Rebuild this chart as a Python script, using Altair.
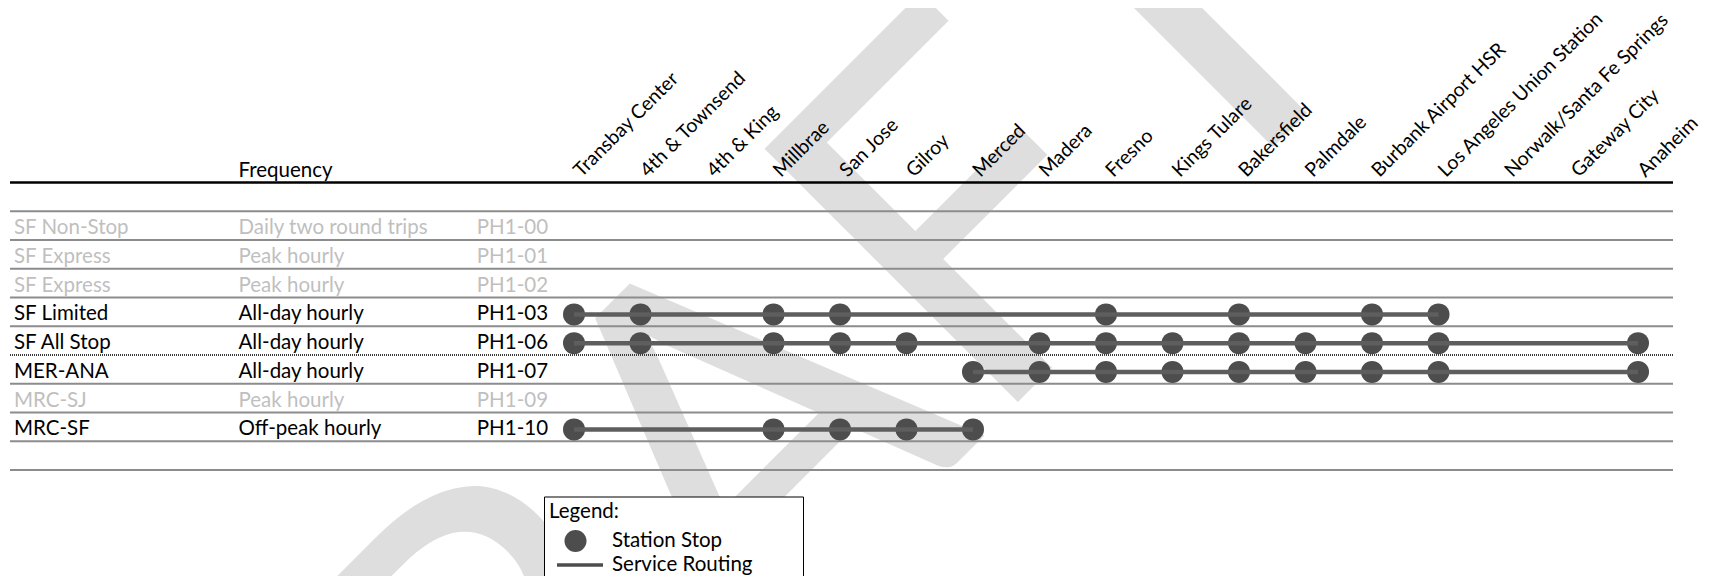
import altair as alt
import pandas as pd

# ---------------- data ----------------
stations = [
    "Transbay Center", "4th & Townsend", "4th & King", "Millbrae", "San Jose",
    "Gilroy", "Merced", "Madera", "Fresno", "Kings Tulare", "Bakersfield",
    "Palmdale", "Burbank Airport HSR", "Los Angeles Union Station",
    "Norwalk/Santa Fe Springs", "Gateway City", "Anaheim",
]

service_names = ["SF Non-Stop", "SF Express", "SF Express", "SF Limited",
                 "SF All Stop", "MER-ANA", "MRC-SJ", "MRC-SF"]
frequencies = ["Daily two round trips", "Peak hourly", "Peak hourly",
               "All-day hourly", "All-day hourly", "All-day hourly",
               "Peak hourly", "Off-peak hourly"]
codes = ["PH1-00", "PH1-01", "PH1-02", "PH1-03", "PH1-06", "PH1-07",
         "PH1-09", "PH1-10"]
status = ["inactive", "inactive", "inactive", "active", "active", "active",
          "inactive", "active"]

stops_ph1_03 = ["Transbay Center", "4th & Townsend", "Millbrae", "San Jose",
                "Fresno", "Bakersfield", "Burbank Airport HSR",
                "Los Angeles Union Station"]
stops_ph1_06 = ["Transbay Center", "4th & Townsend", "Millbrae", "San Jose",
                "Gilroy", "Madera", "Fresno", "Kings Tulare", "Bakersfield",
                "Palmdale", "Burbank Airport HSR", "Los Angeles Union Station",
                "Anaheim"]
stops_ph1_07 = ["Merced", "Madera", "Fresno", "Kings Tulare", "Bakersfield",
                "Palmdale", "Burbank Airport HSR", "Los Angeles Union Station",
                "Anaheim"]
stops_ph1_10 = ["Transbay Center", "Millbrae", "San Jose", "Gilroy", "Merced"]

service_stops = {"PH1-03": stops_ph1_03, "PH1-06": stops_ph1_06,
                 "PH1-07": stops_ph1_07, "PH1-10": stops_ph1_10}

legend_items = ["Station Stop", "Service Routing"]
watermark_text = ["DRAFT"]

# ---------------- tables ----------------
rows = pd.DataFrame({
    "row": list(range(len(codes))),
    "name": service_names,
    "freq": frequencies,
    "code": codes,
    "status": status,
})

stop_records = []
for code, sts in service_stops.items():
    r = codes.index(code)
    for s in sts:
        stop_records.append({"code": code, "row": r, "station": s,
                             "idx": stations.index(s), "kind": legend_items[0]})
stops = pd.DataFrame(stop_records)

n_lines = len(codes) + 2
seps = pd.DataFrame({"pos": [k - 0.5 for k in range(n_lines)],
                     "dark": [k == 5 for k in range(n_lines)]})

# ---------------- layout ----------------
W = 1663
H = 287.5
FONT = "Lato"
FS = 20.5
LINE_PATH = "M-1.68,-0.17H2.5V0.17H-1.68Z"
PAD = "\u2800" * 3

yscale = alt.Scale(domain=[-1.5, 8.5], reverse=True)
xscale = alt.Scale(type="point", domain=stations, range=[564, 1628], padding=0)
status_color = alt.Scale(domain=["active", "inactive"], range=["#000000", "#bfbfbf"])

watermark = alt.Chart(pd.DataFrame({"t": watermark_text})).mark_text(
    font=FONT, fontSize=500, angle=315, align="center", baseline="alphabetic",
    color="#dedede",
).encode(text="t:N", x=alt.value(815), y=alt.value(412.5))

sep_light = alt.Chart(seps[~seps["dark"]]).mark_rule(
    color="#8c8c8c", strokeWidth=2
).encode(y=alt.Y("pos:Q", scale=yscale, axis=None), x=alt.value(0), x2=alt.value(W))

sep_dark = alt.Chart(seps[seps["dark"]]).mark_rule(
    color="#3a3a3a", strokeWidth=2, strokeDash=[1, 1]
).encode(y=alt.Y("pos:Q", scale=yscale, axis=None), x=alt.value(0), x2=alt.value(W))

header_line = alt.Chart(pd.DataFrame({"a": [0]})).mark_rule(
    color="black", strokeWidth=2.5
).encode(y=alt.value(0), x=alt.value(0), x2=alt.value(W))

header_text = alt.Chart(pd.DataFrame({"t": ["Frequency"]})).mark_text(
    font=FONT, fontSize=FS, align="left", baseline="alphabetic", color="black"
).encode(text="t:N", x=alt.value(228.5), y=alt.value(-5.5))


def col_text(field, xpx):
    return alt.Chart(rows).mark_text(
        font=FONT, fontSize=FS, align="left", baseline="alphabetic", dy=8.4
    ).encode(
        x=alt.value(xpx),
        y=alt.Y("row:Q", scale=yscale, axis=None),
        text=f"{field}:N",
        color=alt.Color("status:N", scale=status_color, legend=None),
    )


name_text = col_text("name", 4)
freq_text = col_text("freq", 228.5)
code_text = col_text("code", 466.8)

points = alt.Chart(stops).mark_point(
    filled=True, size=484, color="#4d4d4d", opacity=1, strokeWidth=0, yOffset=2.5
).encode(
    x=alt.X("station:N", scale=xscale, sort=stations, axis=alt.Axis(
        orient="top", title=None, domain=False, ticks=False, grid=False,
        labelAngle=315, labelAlign="left", labelBaseline="alphabetic",
        labelPadding=5, labelOffset=7, labelFont=FONT, labelFontSize=19.5,
        labelColor="black", labelLimit=400, labelOverlap=False,
        labelFlush=False, labelBound=False, zindex=1,
    )),
    y=alt.Y("row:Q", scale=yscale, axis=None),
    shape=alt.Shape("kind:N", scale=alt.Scale(domain=legend_items,
                                              range=["circle", LINE_PATH]),
                    legend=alt.Legend(
                        title="Legend:",
                        orient="none", legendX=534, legendY=314,
                        direction="vertical", padding=5,
                        strokeColor="black", fillColor="white",
                        titleFont=FONT, titleFontSize=FS, titleFontWeight="normal",
                        titleColor="black", titlePadding=8, titleAnchor="start",
                        titleBaseline="top",
                        labelFont=FONT, labelFontSize=FS, labelColor="black",
                        labelOffset=25.5, labelLimit=400,
                        labelExpr=f"datum.label + '{PAD}'",
                        symbolSize=484, symbolFillColor="#4d4d4d",
                        symbolStrokeWidth=0, symbolOffset=15.5, symbolOpacity=1,
                        rowPadding=2,
                    )),
)

routes = alt.Chart(stops).mark_line(
    color="#5e5e5e", strokeWidth=4.5, yOffset=2.5
).encode(
    x=alt.X("station:N", scale=xscale, sort=stations),
    y=alt.Y("row:Q", scale=yscale, axis=None),
    detail="code:N",
    order=alt.Order("idx:Q"),
)

chart = alt.layer(
    watermark, sep_light, sep_dark, header_line, header_text,
    name_text, freq_text, code_text, points, routes,
).properties(
    width=W, height=H,
    padding={"left": 2, "top": 174.5, "right": 28, "bottom": 106},
    autosize=alt.AutoSizeParams(type="none"),
).configure_view(stroke=None)

chart.save("out.html", embed_options={"renderer": "svg", "actions": False})
